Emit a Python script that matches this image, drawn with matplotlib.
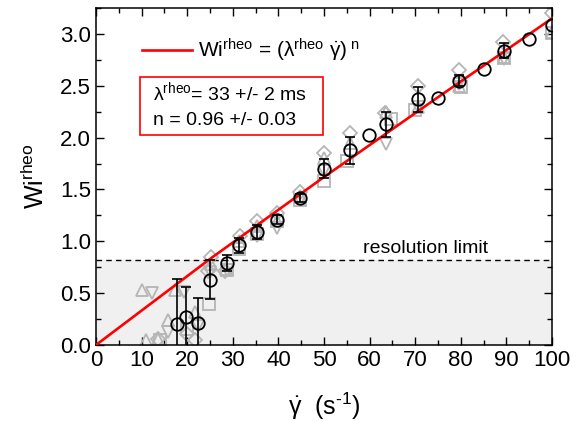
import numpy as np
import matplotlib
matplotlib.use('Agg')
import matplotlib.pyplot as plt
from matplotlib.patches import Rectangle
from matplotlib.ticker import MultipleLocator

plt.rcParams['font.family'] = ['Liberation Sans', 'DejaVu Sans']
plt.rcParams['mathtext.fontset'] = 'custom'
plt.rcParams['mathtext.rm'] = 'Liberation Sans'
plt.rcParams['mathtext.it'] = 'Liberation Sans'
plt.rcParams['mathtext.default'] = 'rm'

# mean values (black circles) with error bars
gam = [17.7, 19.7, 22.3, 25.0, 28.7, 31.4, 35.3, 39.7, 44.7, 50.0,
       55.7, 59.9, 63.5, 70.6, 75.0, 79.6, 85.0, 89.5, 95.0, 100.0]
wi = [0.20, 0.27, 0.21, 0.63, 0.79, 0.96, 1.09, 1.21, 1.42, 1.70,
      1.88, 2.03, 2.13, 2.37, 2.38, 2.55, 2.66, 2.84, 2.95, 3.09]
wi_err = [0.44, 0.29, 0.24, 0.19, 0.08, 0.07, 0.07, 0.04, 0.04, 0.09,
          0.13, 0.0, 0.12, 0.12, 0.0, 0.05, 0.0, 0.07, 0.0, 0.0]

# individual runs (grey open symbols)
up_x = [10.0, 11.0, 13.7, 15.9, 17.3, 21.7, 25.2, 28.5, 31.4, 35.3,
        39.7, 44.7, 50.0, 55.7, 63.6, 70.6, 79.6, 89.5, 100.0]
up_y = [0.53, 0.05, 0.06, 0.24, 0.53, 0.32, 0.78, 0.73, 1.00, 1.15,
        1.20, 1.44, 1.80, 1.95, 2.25, 2.30, 2.50, 2.78, 3.02]
down_x = [12.3, 15.8, 19.4, 22.3, 25.0, 28.7, 35.3, 39.7, 44.7, 50.0,
          63.6, 70.6, 79.6, 89.5]
down_y = [0.50, 0.13, 0.51, 0.18, 0.70, 0.72, 1.05, 1.13, 1.40, 1.68,
          1.94, 2.30, 2.52, 2.76]
sq_x = [14.0, 19.9, 24.8, 28.7, 31.4, 35.3, 39.7, 44.7, 50.0, 55.0,
        64.7, 70.0, 80.0, 89.5, 100.0]
sq_y = [0.05, 0.15, 0.40, 0.72, 0.93, 1.07, 1.20, 1.40, 1.58, 1.77,
        2.18, 2.27, 2.49, 2.77, 3.01]
dia_x = [13.5, 19.9, 21.7, 24.6, 25.2, 28.3, 31.6, 35.2, 39.7, 44.7,
         50.0, 55.7, 63.4, 70.6, 79.6, 89.3, 100.0]
dia_y = [0.06, 0.11, 0.05, 0.71, 0.85, 0.71, 1.05, 1.20, 1.27, 1.48,
         1.85, 2.04, 2.24, 2.50, 2.65, 2.92, 3.20]

# fit curve Wi = (lambda*gamma)^n
fit_x = [0, 25, 50, 75, 100]
fit_y = [0.0, 0.83, 1.62, 2.39, 3.15]

res_limit = 0.82

fig = plt.figure(figsize=(5.87, 4.21), dpi=100)
ax = fig.add_axes([0.1635, 0.1805, 0.777, 0.8005])

ax.axhspan(0, res_limit, color='#f0f0f0', zorder=0)
ax.axhline(res_limit, color='k', ls=(0, (4, 3)), lw=1.0, zorder=1)
ax.text(58.5, res_limit + 0.03, 'resolution limit', fontsize=14, ha='left', va='bottom')

grey = '#b5b5b5'
mk = dict(ls='none', mfc='none', mec=grey, mew=1.3, ms=9, zorder=2)
ax.plot(up_x, up_y, marker='^', **mk)
ax.plot(down_x, down_y, marker='v', **mk)
ax.plot(sq_x, sq_y, marker='s', **dict(mk, ms=8))
ax.plot(dia_x, dia_y, marker='D', **dict(mk, ms=7.5))

ax.plot(fit_x, fit_y, color='red', lw=1.9, zorder=3,
        label=r'$\mathrm{Wi}^{\mathrm{rheo}}$ = ($\lambda^{\mathrm{rheo}}\ \dot{\gamma}$)$^{\mathrm{\ n}}$')

gam = np.array(gam)
wi = np.array(wi)
wi_err = np.array(wi_err)
m = wi_err > 0
ax.errorbar(gam[m], wi[m], yerr=wi_err[m], fmt='none', ecolor='k', elinewidth=1.2,
            capsize=3.5, capthick=1.2, zorder=4)
ax.plot(gam, wi, 'o', mfc='none', mec='k', mew=1.3, ms=9, zorder=5)

ax.set_xlim(0, 100)
ax.set_ylim(0, 3.25)
ax.xaxis.set_major_locator(MultipleLocator(10))
ax.xaxis.set_minor_locator(MultipleLocator(5))
ax.yaxis.set_major_locator(MultipleLocator(0.5))
ax.yaxis.set_minor_locator(MultipleLocator(0.25))
ax.yaxis.set_major_formatter(matplotlib.ticker.FormatStrFormatter('%.1f'))
ax.tick_params(which='both', direction='in', top=True, right=True, labelsize=16, width=1)
ax.tick_params(which='major', length=6)
ax.tick_params(which='minor', length=3.5)
for s in ax.spines.values():
    s.set_linewidth(1.1)

ax.set_xlabel(r'$\dot{\gamma}$  (s$^{\text{-}1}$)', fontsize=18, labelpad=14)
ax.set_ylabel(r'$\mathrm{Wi}^{\mathrm{rheo}}$', fontsize=18, labelpad=8)

ax.legend(loc='center left', bbox_to_anchor=(0.101, 0.875), frameon=False, fontsize=15,
          handlelength=2.4, handletextpad=0.3, borderpad=0, borderaxespad=0)

ax.add_patch(Rectangle((0.0965, 0.623), 0.4015, 0.172, transform=ax.transAxes,
                       fill=False, edgecolor='red', lw=1.2, zorder=6))
ax.text(0.125, 0.727, r'$\lambda^{\mathrm{rheo}}$= 33 +/- 2 ms', transform=ax.transAxes,
        fontsize=14, va='baseline', ha='left')
ax.text(0.125, 0.653, 'n = 0.96 +/- 0.03', transform=ax.transAxes,
        fontsize=14, va='baseline', ha='left')

fig.savefig('out.png', dpi=100)
